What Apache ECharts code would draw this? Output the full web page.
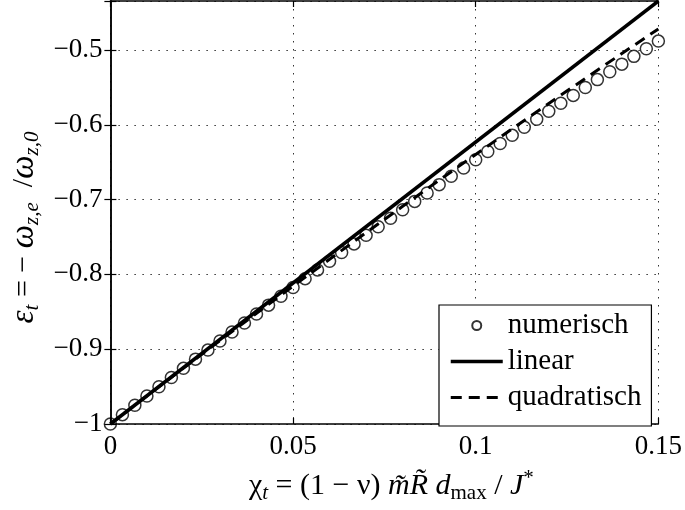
<!DOCTYPE html>
<html>
<head>
<meta charset="utf-8">
<script src="https://cdn.jsdelivr.net/npm/echarts@6/dist/echarts.min.js"></script>
<style>html,body{margin:0;padding:0;background:#fff}#c{width:685px;height:510px}</style>
</head>
<body>
<div id="c"></div>
<script>
const xTicks = [0, 0.05, 0.1, 0.15];
const xTickLabels = ['0', '0.05', '0.1', '0.15'];
const yTicks = [-1, -0.9, -0.8, -0.7, -0.6, -0.5];
const yTickLabels = ['\u22121', '\u22120.9', '\u22120.8', '\u22120.7', '\u22120.6', '\u22120.5'];

const numX = [0, 0.0033, 0.0067, 0.0100, 0.0133, 0.0167, 0.0200, 0.0233, 0.0267, 0.0300,
  0.0333, 0.0367, 0.0400, 0.0433, 0.0467, 0.0500, 0.0533, 0.0567, 0.0600, 0.0633,
  0.0667, 0.0700, 0.0733, 0.0767, 0.0800, 0.0833, 0.0867, 0.0900, 0.0933, 0.0967,
  0.1000, 0.1033, 0.1067, 0.1100, 0.1133, 0.1167, 0.1200, 0.1233, 0.1267, 0.1300,
  0.1333, 0.1367, 0.1400, 0.1433, 0.1467, 0.1500];
const numY = [-1, -0.9875, -0.9750, -0.9625, -0.9502, -0.9378, -0.9256, -0.9133, -0.9012, -0.8890,
  -0.8771, -0.8650, -0.8530, -0.8411, -0.8292, -0.8175, -0.8057, -0.7940, -0.7824, -0.7708,
  -0.7592, -0.7478, -0.7363, -0.7250, -0.7136, -0.7024, -0.6911, -0.6800, -0.6689, -0.6578,
  -0.6468, -0.6358, -0.6249, -0.6141, -0.6033, -0.5926, -0.5819, -0.5712, -0.5607, -0.5501,
  -0.5396, -0.5292, -0.5189, -0.5085, -0.4983, -0.4881];

const linX = [0, 0.15];
const linY = [-1, -0.4345];

const quadX = [0, 0.01, 0.02, 0.03, 0.04, 0.05, 0.06, 0.07, 0.08, 0.09, 0.10, 0.11, 0.12, 0.13, 0.14, 0.15];
const quadY = [-1, -0.9625, -0.9253, -0.8884, -0.8519, -0.8157, -0.7798, -0.7442, -0.7090, -0.6741,
  -0.6396, -0.6054, -0.5715, -0.5380, -0.5047, -0.4719];

const seriesNames = ['numerisch', 'linear', 'quadratisch'];

const zip = (xs, ys) => xs.map((x, i) => [x, ys[i]]);
const FONT = "'Liberation Serif', 'Times New Roman', Times, serif";

function tickLabel(v, ticks, labels) {
  for (let i = 0; i < ticks.length; i++) {
    if (Math.abs(v - ticks[i]) < 1e-7) return labels[i];
  }
  return '';
}

const richStyles = {
  n: { fontFamily: FONT, fontSize: 30, lineHeight: 36, color: '#000' },
  i: { fontFamily: FONT, fontSize: 30, lineHeight: 36, fontStyle: 'italic', color: '#000' },
  g: { fontFamily: FONT, fontSize: 33, lineHeight: 36, fontStyle: 'italic', color: '#000' },
  sub: { fontFamily: FONT, fontSize: 21, lineHeight: 16, fontStyle: 'italic', verticalAlign: 'bottom', color: '#000' },
  subu: { fontFamily: FONT, fontSize: 21, lineHeight: 16, verticalAlign: 'bottom', color: '#000' },
  sup: { fontFamily: FONT, fontSize: 21, lineHeight: 16, verticalAlign: 'top', color: '#000' }
};

const frameLine = { show: true, lineStyle: { color: '#000', width: 1.5 } };
const innerTick = { show: true, inside: true, length: 6, lineStyle: { color: '#000', width: 1.2 } };
const dotted = { show: true, lineStyle: { color: '#333', width: 1, type: [1.5, 6.5] } };

const chart = echarts.init(document.getElementById('c'), null, { renderer: 'canvas' });
chart.setOption({
  backgroundColor: '#fff',
  animation: false,
  grid: { left: 108, right: 23, top: 1, bottom: 86, containLabel: false },
  xAxis: [{
    type: 'value', min: 0, max: 0.15, interval: 0.05, position: 'bottom',
    axisLine: frameLine, axisTick: innerTick, splitLine: dotted,
    axisLabel: {
      margin: 9, fontFamily: FONT, fontSize: 27, color: '#000',
      formatter: v => tickLabel(v, xTicks, xTickLabels)
    },
    name: '{n|\u03c7}{sub|t}{n| = (1 \u2212 \u03bd) }{i|m\u0303R\u0303}{n| }{i|d}{subu|max}{n| / }{i|J}{sup|*}',
    nameLocation: 'middle', nameGap: 44,
    nameTextStyle: { rich: richStyles, padding: [0, 0, 0, 14] }
  }, {
    type: 'value', min: 0, max: 0.15, interval: 0.05, position: 'top',
    axisLine: frameLine, axisTick: innerTick, splitLine: { show: false }, axisLabel: { show: false }
  }],
  yAxis: [{
    type: 'value', min: -1, max: -0.4345, interval: 0.1, position: 'left',
    axisLine: frameLine, axisTick: innerTick, splitLine: dotted,
    axisLabel: {
      margin: 8, fontFamily: FONT, fontSize: 27, color: '#000',
      formatter: v => tickLabel(v, yTicks, yTickLabels)
    },
    name: '{g|\u03b5}{sub|t}{n| = \u2212 }{g|\u03c9}{sub|z,e}{n|  /}{g|\u03c9}{sub|z,0}',
    nameLocation: 'middle', nameRotate: 90, nameGap: 66,
    nameTextStyle: { rich: richStyles, padding: [0, 30, 0, 0] }
  }, {
    type: 'value', min: -1, max: -0.4345, interval: 0.1, position: 'right',
    axisLine: frameLine, axisTick: innerTick, splitLine: { show: false }, axisLabel: { show: false }
  }],
  legend: {
    orient: 'vertical', left: 439, top: 305,
    data: [
      { name: seriesNames[0] },
      { name: seriesNames[1], itemStyle: { opacity: 0 }, lineStyle: { width: 3.5 } },
      { name: seriesNames[2], itemStyle: { opacity: 0 }, lineStyle: { width: 3, type: [11, 7] } }
    ],
    backgroundColor: '#fff', borderColor: '#000', borderWidth: 1.2,
    padding: [6, 10, 14, 10],
    itemWidth: 52, itemHeight: 9, itemGap: 7,
    textStyle: { fontFamily: FONT, fontSize: 29, lineHeight: 28, color: '#000' }
  },
  series: [{
    name: seriesNames[0], type: 'scatter', data: zip(numX, numY),
    symbol: 'circle', symbolSize: 12,
    itemStyle: { color: 'rgba(0,0,0,0)', borderColor: '#000', borderWidth: 1.5 },
    z: 3
  }, {
    name: seriesNames[1], type: 'line', data: zip(linX, linY),
    showSymbol: false,
    lineStyle: { color: '#000', width: 3.5 }, itemStyle: { color: '#000' }, z: 4
  }, {
    name: seriesNames[2], type: 'line', data: zip(quadX, quadY),
    showSymbol: false, smooth: false,
    lineStyle: { color: '#000', width: 3, type: [11, 7] }, itemStyle: { color: '#000' }, z: 4
  }]
});
</script>
</body>
</html>
